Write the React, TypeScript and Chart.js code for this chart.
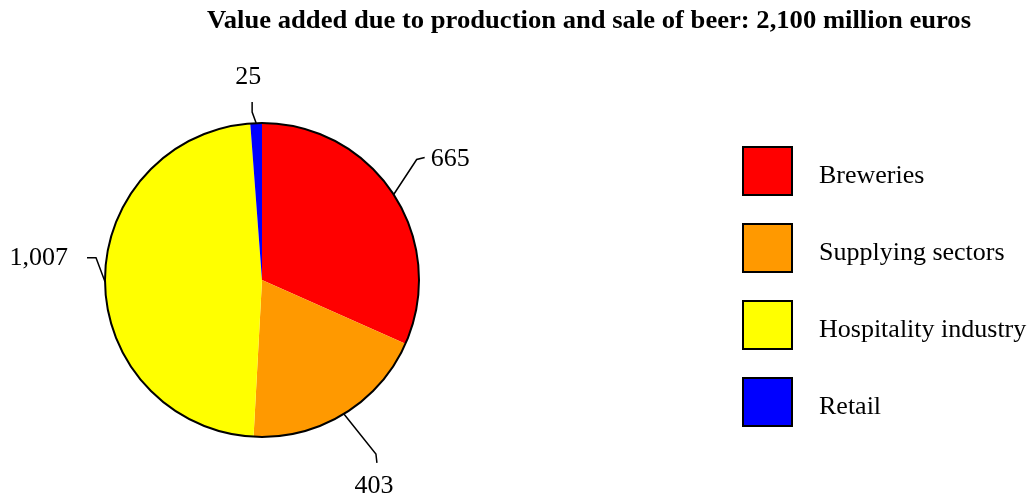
import React, { useEffect, useRef } from "react";
import { Chart, registerables } from "chart.js";

Chart.register(...registerables);

const categories = ["Breweries", "Supplying sectors", "Hospitality industry", "Retail"];
const values = [665, 403, 1007, 25];
const valueLabels = ["665", "403", "1,007", "25"];
const colors = ["#ff0000", "#ff9900", "#ffff00", "#0000ff"];
const titleText = "Value added due to production and sale of beer: 2,100 million euros";

// leader line styling: offsets from the arc edge point at the slice's mid-angle
const leaderStyle = [
  { elbow: [23, -35], end: [31, -37], text: [37, -35], align: "left" },
  { elbow: [32, 40], end: [33, 49], text: [30, 72], align: "center" },
  { elbow: [-9, -24], end: [-18, -24], text: [-37, -23], align: "right" },
  { elbow: [-4, -11], end: [-4, -21], text: [-8, -46], align: "center" },
];

const SERIF = "'Liberation Serif', 'Times New Roman', Times, serif";

const overlayPlugin = {
  id: "overlay",
  afterDatasetsDraw(chart: any) {
    const ctx = chart.ctx as CanvasRenderingContext2D;
    const meta = chart.getDatasetMeta(0);
    const arcs = meta.data as any[];
    if (!arcs.length) return;
    const cx = arcs[0].x;
    const cy = arcs[0].y;
    const r = arcs[0].outerRadius;

    ctx.save();
    // outer circle
    ctx.beginPath();
    ctx.arc(cx, cy, r, 0, Math.PI * 2);
    ctx.lineWidth = 2;
    ctx.strokeStyle = "#000";
    ctx.stroke();

    // leader lines + labels
    ctx.lineWidth = 1.5;
    ctx.font = `26px ${SERIF}`;
    ctx.fillStyle = "#000";
    ctx.textBaseline = "middle";
    arcs.forEach((arc, i) => {
      const mid = (arc.startAngle + arc.endAngle) / 2;
      const ex = cx + Math.cos(mid) * r;
      const ey = cy + Math.sin(mid) * r;
      const s = leaderStyle[i];
      ctx.beginPath();
      ctx.moveTo(ex, ey);
      ctx.lineTo(ex + s.elbow[0], ey + s.elbow[1]);
      ctx.lineTo(ex + s.end[0], ey + s.end[1]);
      ctx.stroke();
      ctx.textAlign = s.align as CanvasTextAlign;
      ctx.fillText(valueLabels[i], ex + s.text[0], ey + s.text[1]);
    });

    // title
    ctx.font = `bold 26px ${SERIF}`;
    ctx.textAlign = "left";
    ctx.textBaseline = "alphabetic";
    const w = ctx.measureText(titleText).width;
    const target = 764;
    ctx.save();
    ctx.translate(207, 28);
    ctx.scale(target / w, 1);
    ctx.fillText(titleText, 0, 0);
    ctx.restore();

    // legend
    ctx.font = `26px ${SERIF}`;
    ctx.textBaseline = "middle";
    categories.forEach((c, i) => {
      const x = 743;
      const y = 147 + i * 77;
      ctx.fillStyle = colors[i];
      ctx.fillRect(x, y, 49, 48);
      ctx.lineWidth = 2;
      ctx.strokeStyle = "#000";
      ctx.strokeRect(x, y, 49, 48);
      ctx.fillStyle = "#000";
      ctx.fillText(c, 819, y + 29);
    });
    ctx.restore();
  },
};

export default function App() {
  const ref = useRef<HTMLCanvasElement>(null);
  useEffect(() => {
    let chart: Chart | null = null;
    let cancelled = false;
    const make = () => {
      if (cancelled || !ref.current) return;
      chart = new Chart(ref.current, {
        type: "pie",
        data: {
          labels: categories,
          datasets: [
            {
              data: values,
              backgroundColor: colors,
              borderWidth: 0,
            },
          ],
        },
        options: {
          responsive: false,
          animation: false,
          layout: { padding: { left: 105, right: 617, top: 123, bottom: 63 } },
          plugins: {
            legend: { display: false },
            title: { display: false },
            tooltip: { enabled: false },
          },
        },
        plugins: [overlayPlugin],
      });
    };
    Promise.all([
      document.fonts.load("26px 'Liberation Serif'"),
      document.fonts.load("bold 26px 'Liberation Serif'"),
    ])
      .catch(() => null)
      .then(make);
    return () => {
      cancelled = true;
      if (chart) chart.destroy();
    };
  }, []);
  return (
    <div style={{ position: "absolute", left: 0, top: 0, width: 1036, height: 500, background: "#fff" }}>
      <canvas ref={ref} width={1036} height={500} />
    </div>
  );
}
